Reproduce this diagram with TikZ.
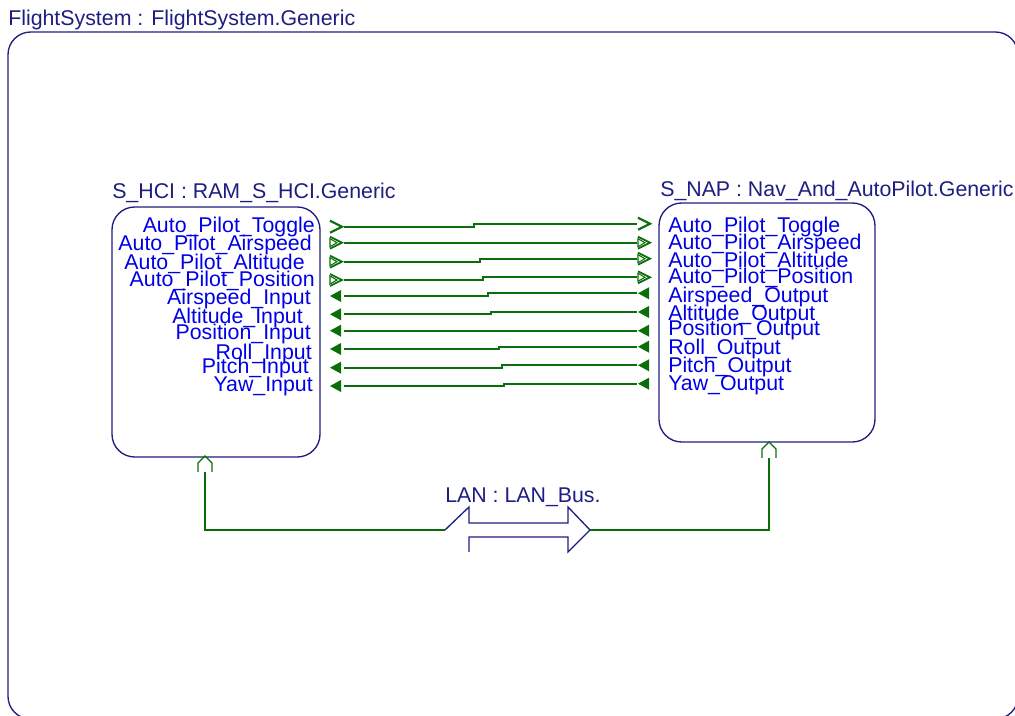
\documentclass[tikz,border=0pt]{standalone}
\usepackage{fontspec}
\setmainfont{Liberation Sans}
\usetikzlibrary{positioning, calc}

\definecolor{navy}{RGB}{30,30,130}
\definecolor{portblue}{RGB}{0,0,230}
\definecolor{wiregreen}{RGB}{10,110,10}

\tikzset{
  chev/.pic={\draw[wiregreen, line width=1.6pt] (0,-6) -- (12,0) -- (0,6);},
  chevtri/.pic={\draw[wiregreen, line width=1.3pt] (0,-6) -- (12,0) -- (0,6);
                \draw[wiregreen, line width=0.8pt] (0,-4) -- (7,0) -- (0,4) -- cycle;},
  tri/.pic={\fill[wiregreen] (0,0) -- (11,-6) -- (11,6) -- cycle;},
  lanport/.pic={\draw[wiregreen, line width=1pt] (-7,15) -- (-7,6) -- (0,-1) -- (7,6) -- (7,15);}
}

\begin{document}
\begin{tikzpicture}[x=0.75pt, y=-0.75pt, font=\fontsize{16}{18}\selectfont,
  box/.style={draw=navy, line width=1pt, rounded corners=17pt, inner sep=0pt},
  title/.style={anchor=base west, inner sep=0pt, text=navy},
  port/.style={inner sep=0pt, text=portblue},
  wire/.style={draw=wiregreen, line width=1.5pt}]
\useasboundingbox (0,0) rectangle (1015,716);

% Outer system frame
\node[title] (systitle) at (8,26) {FlightSystem : FlightSystem.Generic};
\node[box, minimum width=757.5pt, minimum height=515.25pt] (sys) at (513,375.5) {};

% Components
\node[title] (hcititle) at (112,199) {S\_HCI : RAM\_S\_HCI.Generic};
\node[box, minimum width=156pt, minimum height=187.5pt] (hci) at (216,332) {};
\node[title] (naptitle) at (660,197) {S\_NAP : Nav\_And\_AutoPilot.Generic};
\node[box, minimum width=162pt, minimum height=179.25pt] (nap) at (767,322.5) {};

% Ports and connections
\foreach \i/\ltxt/\lx/\lb/\ly/\rtxt/\rb/\ry/\jx/\kind in {
  1/Auto\_Pilot\_Toggle/315/232.5/226.7/Auto\_Pilot\_Toggle/232.5/223.7/474/chev,
  2/Auto\_Pilot\_Airspeed/312/250.5/242.7/Auto\_Pilot\_Airspeed/249.5/242.7/477/chevtri,
  3/Auto\_Pilot\_Altitude/305/269.5/261.7/Auto\_Pilot\_Altitude/267.5/258.7/480/chevtri,
  4/Auto\_Pilot\_Position/315/286.5/280/Auto\_Pilot\_Position/283.5/277.3/483/chevtri,
  5/Airspeed\_Input/311/304.5/296/Airspeed\_Output/302.5/293.3/488/tri,
  6/Altitude\_Input/303/323.5/314.3/Altitude\_Output/320.5/312/491/tri,
  7/Position\_Input/311/339.5/330.7/Position\_Output/335.5/330.7/495/tri,
  8/Roll\_Input/312/359.5/349/Roll\_Output/354.5/346.7/499/tri,
  9/Pitch\_Input/309/373.5/367.7/Pitch\_Output/372.5/365.3/502/tri,
  10/Yaw\_Input/313/391.5/386/Yaw\_Output/390.5/383.7/504/tri}{
  \node[port, anchor=base east] (hp\i) at (\lx,\lb) {\ltxt};
  \node[port, anchor=base west] (np\i) at (668,\rb) {\rtxt};
  \coordinate (a\i) at (344,\ly);
  \coordinate (b\i) at (637,\ry);
  \draw[wire] (a\i) -- (\jx,\ly) |- (b\i);
  \path (330,\ly) pic {\kind} (638,\ry) pic {\kind};
}

% LAN bus
\coordinate (hcilan) at (205,457);
\coordinate (naplan) at (769,443);
\path (hcilan) pic {lanport} (naplan) pic {lanport};
\node[title] (lantitle) at (445,503) {LAN : LAN\_Bus.};
\coordinate (busin) at (445,530);
\coordinate (busout) at (590,530);
\draw[navy, line width=1pt, line join=miter] (busin) -- (469,507) -- (469,523) -- (568,523) -- (568,507)
  -- (busout) -- (568,552) -- (568,537) -- (469,537) -- (469,552);
\draw[wire] ($(hcilan)+(0,15)$) |- (busin);
\draw[wire] (busout) -| ($(naplan)+(0,15)$);
\end{tikzpicture}
\end{document}
